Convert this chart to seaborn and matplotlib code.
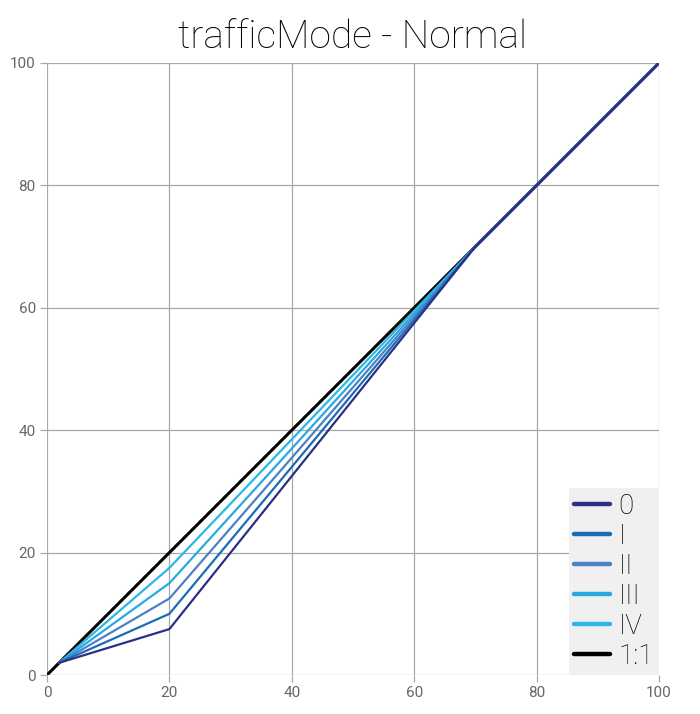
import numpy as np
import matplotlib.pyplot as plt
import pandas as pd
import seaborn as sns
from matplotlib.lines import Line2D

levels = ["0", "I", "II", "III", "IV"]
x_pts = [2, 20, 70, 100]
y_at_20 = [7.5, 10, 12.5, 15, 17.5]
colors = ["#2b3087", "#1a6db5", "#4f7fc4", "#28a9df", "#2ab8e6"]
ref_x = [0, 100]
ref_y = [0, 100]

rows = []
for lv, y20 in zip(levels, y_at_20):
    for x, y in zip(x_pts, [2, y20, 70, 100]):
        rows.append({"x": x, "y": y, "level": lv})
df = pd.DataFrame(rows)

sns.set_style("white")
plt.rcParams['font.family'] = ['Roboto', 'DejaVu Sans']

fig = plt.figure(figsize=(7, 7.14), dpi=100)
ax = fig.add_axes([0.0671, 0.0546, 0.8743, 0.8572])

ax.plot(ref_x, ref_y, color="black", lw=2.2, zorder=2)
# lightest first so the dark one ends up on top
for lv, c in reversed(list(zip(levels, colors))):
    sub = df[df["level"] == lv]
    sns.lineplot(data=sub, x="x", y="y", color=c, lw=1.6, ax=ax,
                 sort=False, estimator=None, zorder=3)

ax.set_xlim(0, 100)
ax.set_ylim(0, 100)
ax.set_xticks(range(0, 101, 20))
ax.set_yticks(range(0, 101, 20))
ax.grid(True, color="#a8a8a8", lw=0.9)
for s in ax.spines.values():
    s.set_visible(False)
ax.tick_params(axis="both", length=5, width=0.9, color="#a8a8a8",
               labelcolor="#666666", labelsize=11, pad=3)
ax.tick_params(axis="y", left=True)
ax.tick_params(axis="x", bottom=True)
ax.set_xlabel("")
ax.set_ylabel("")
ax.set_title("trafficMode - Normal", fontsize=28, fontweight="light",
             color="black", pad=11)

handles = [Line2D([0], [0], color=c, lw=3.2, solid_capstyle="round") for c in colors]
handles.append(Line2D([0], [0], color="black", lw=3.2, solid_capstyle="round"))
leg = ax.legend(handles, levels + ["1:1"], loc="lower right", fontsize=20,
                frameon=True, fancybox=False, borderaxespad=0.0,
                handlelength=1.3, handletextpad=0.3, labelspacing=0.11,
                borderpad=0.18)
leg.get_frame().set_facecolor("#f0f0f0")
leg.get_frame().set_edgecolor("none")
leg.get_frame().set_alpha(1)
for t in leg.get_texts():
    t.set_fontweight("light")
    t.set_color("black")

fig.savefig("out.png", dpi=100)
